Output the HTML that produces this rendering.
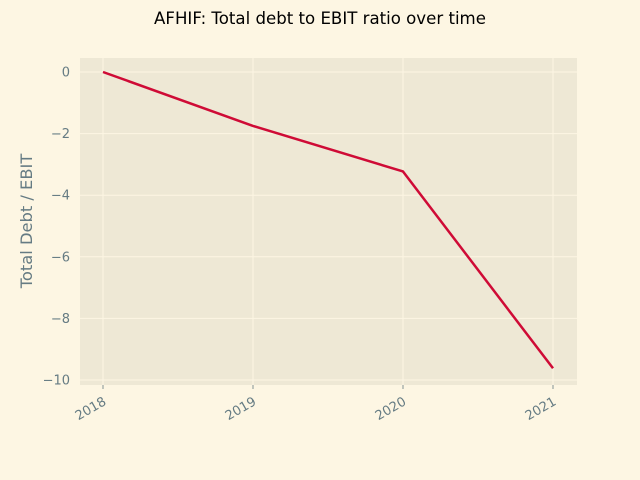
<!DOCTYPE html>
<html><head><meta charset="utf-8"><style>
body{margin:0;background:#fdf6e3;}
svg{display:block;font-family:"DejaVu Sans","Liberation Sans",sans-serif;}
</style></head><body>
<svg id="chart" width="640" height="480" viewBox="0 0 640 480">
<rect x="0" y="0" width="640" height="480" fill="#fdf6e3"/>
<text x="320" y="24" text-anchor="middle" font-size="16.6" fill="#000">AFHIF: Total debt to EBIT ratio over time</text>
<rect x="80" y="58" width="497" height="327" fill="#eee8d5"/>
<g id="grid"></g>
<g id="ticks"></g>
<g id="series"></g>
<text transform="translate(32,221) rotate(-90)" text-anchor="middle" font-size="16.3" fill="#657b83">Total Debt / EBIT</text>
</svg>
<script>
const years = ["2018","2019","2020","2021"];
const ratios = [0, -1.75, -3.23, -9.62];
const yTicks = [0, -2, -4, -6, -8, -10];
const NS = "http://www.w3.org/2000/svg";
const x = i => 103 + i * 150;
const y = v => 72 - v * 30.8;
const grid = document.getElementById('grid');
const ticks = document.getElementById('ticks');
const series = document.getElementById('series');
function mk(tag, attrs, parent){const e=document.createElementNS(NS,tag);for(const k in attrs)e.setAttribute(k,attrs[k]);parent.appendChild(e);return e;}
yTicks.forEach(t=>{
  const g = mk('line',{x1:80,x2:577,y1:y(t),y2:y(t),stroke:'#fdf6e3','stroke-width':1},grid);
  
  
  const tl = mk('text',{x:70,y:y(t)+4.5,'text-anchor':'end','font-size':13,fill:'#657b83'},ticks);
  tl.textContent = t===0 ? '0' : '\u2212'+Math.abs(t);
  
  
});
years.forEach((yr,i)=>{
  const g = mk('line',{x1:x(i),x2:x(i),y1:58,y2:385,stroke:'#fdf6e3','stroke-width':1},grid);
  
  
  const tm = mk('line',{x1:x(i),x2:x(i),y1:385,y2:389,stroke:'#657b83','stroke-width':0.8},ticks);
  
  
  const tl = mk('text',{x:x(i)+4,y:404,'text-anchor':'end','font-size':13,fill:'#657b83',transform:`rotate(-30 ${x(i)+4} 404)`},ticks);
  tl.textContent = yr;
  
  
});
const pts = ratios.map((v,i)=>x(i)+','+y(v)).join(' ');
const line = mk('polyline',{points:pts,fill:'none',stroke:'#cf0b36','stroke-width':2.5,'stroke-linejoin':'round'},series);


</script>
</body></html>
